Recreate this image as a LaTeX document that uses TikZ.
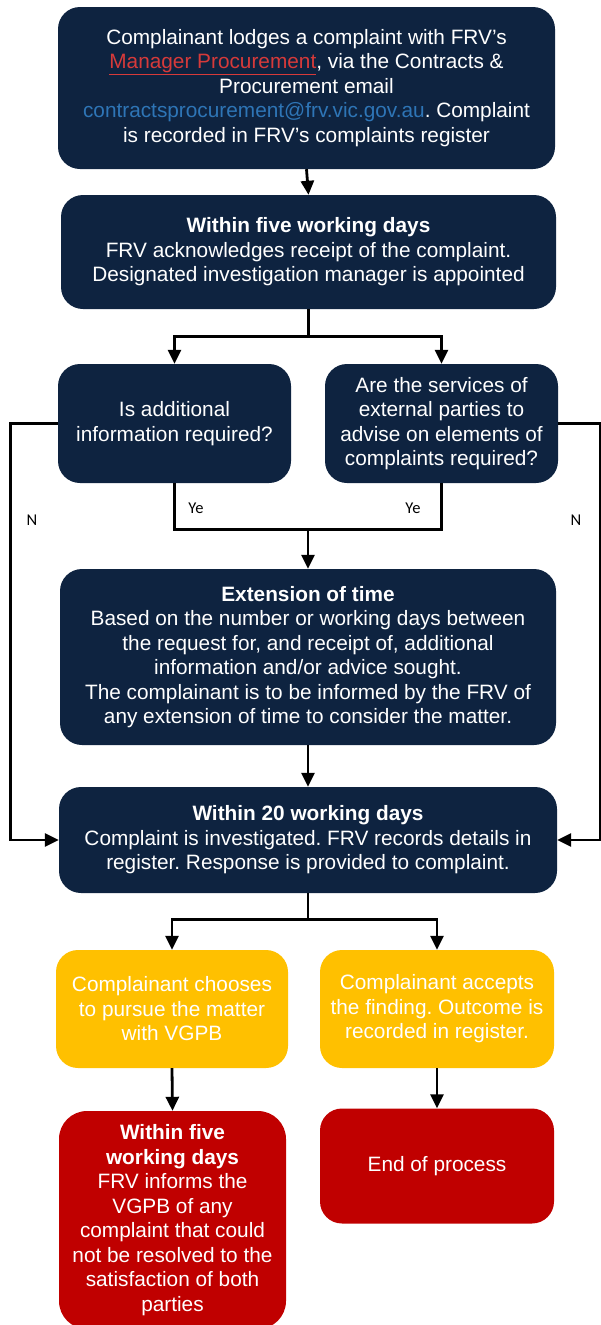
\documentclass[tikz,border=0pt]{standalone}
\usepackage{fontspec}
\setmainfont{Liberation Sans}
\newfontfamily\labelfont{Carlito}
\usetikzlibrary{arrows.meta}
\definecolor{frvnavy}{RGB}{14,35,64}
\definecolor{frvyellow}{RGB}{255,192,0}
\definecolor{frvred}{RGB}{192,0,0}
\definecolor{linkred}{RGB}{214,58,58}
\definecolor{mailblue}{RGB}{46,117,182}
\frenchspacing
\begin{document}
\begin{tikzpicture}[x=1pt,y=-1pt,
    box/.style={rounded corners=22pt, fill=frvnavy, text=white, align=center,
      inner sep=0pt, font={\fontsize{20.8}{24.5}\selectfont}},
    ybox/.style={box, fill=frvyellow},
    rbox/.style={box, fill=frvred},
    line/.style={line width=2.8pt},
    arr/.style={line, -{Triangle[length=14pt,width=13pt]}},
    tag/.style={font={\labelfont\fontsize{16.5}{18}\selectfont}}]
  \useasboundingbox (0,0) rectangle (601,1325);
  % Lodging
  \node[box, minimum width=497pt, minimum height=162pt] (lodge) at (306.5,88)
    {Complainant lodges a complaint with FRV’s\\
     \textcolor{linkred}{\underline{Manager Procurement}}, via the Contracts \&\\
     Procurement email\\
     \textcolor{mailblue}{contractsprocurement@frv.vic.gov.au}. Complaint\\
     is recorded in FRV’s complaints register};
  \node[box, minimum width=495pt, minimum height=114pt] (ack) at (308.5,252)
    {\textbf{Within five working days}\\
     FRV acknowledges receipt of the complaint.\\
     Designated investigation manager is appointed};
  % Questions
  \node[box, minimum width=233pt, minimum height=119pt] (info) at (174.5,423.5)
    {Is additional\\information required?};
  \node[box, minimum width=233pt, minimum height=119pt] (extern) at (441.5,423.5)
    {Are the services of\\external parties to\\advise on elements of\\complaints required?};
  \node[box, minimum width=496pt, minimum height=176pt] (ext) at (308,657)
    {\textbf{Extension of time}\\
     Based on the number or working days between\\
     the request for, and receipt of, additional\\
     information and/or advice sought.\\
     The complainant is to be informed by the FRV of\\
     any extension of time to consider the matter.};
  \node[box, minimum width=498pt, minimum height=106pt] (inv) at (308,840)
    {\textbf{Within 20 working days}\\
     Complaint is investigated. FRV records details in\\
     register. Response is provided to complaint.};
  % Outcomes
  \node[ybox, minimum width=232pt, minimum height=118pt] (pursue) at (172,1009)
    {Complainant chooses\\to pursue the matter\\with VGPB};
  \node[ybox, minimum width=234pt, minimum height=118pt] (accept) at (437,1009)
    {Complainant accepts\\the finding. Outcome is\\recorded in register.};
  \node[rbox, rounded corners=28pt, minimum width=227pt, minimum height=218pt] (inform) at (172.5,1220)
    {\textbf{Within five}\\\textbf{working days}\\FRV informs the\\VGPB of any\\complaint that could\\
     not be resolved to the\\satisfaction of both\\parties};
  \node[rbox, minimum width=234pt, minimum height=115pt] (end) at (437,1166)
    {End of process};
  % Connectors
  \draw[arr] (lodge.south) -- (ack.north);
  \draw[line] (ack.south) -- ++(0,27) coordinate (split);
  \draw[arr] (split) -| (info.north);
  \draw[arr] (split) -| (extern.north);
  \draw[line] (info.south) -- ++(0,46) coordinate (join) -| (extern.south);
  \draw[arr] (ext.north |- join) -- (ext.north);
  \draw[arr] (info.west) -- ++(-47,0) |- (inv.west);
  \draw[arr] (extern.east) -- ++(42,0) |- (inv.east);
  \draw[arr] (ext.south) -- (inv.north);
  \draw[line] (inv.south) -- ++(0,26) coordinate (fork);
  \draw[arr] (fork) -| (pursue.north);
  \draw[arr] (fork) -| (accept.north);
  \draw[arr] (pursue.south) -- (inform.north);
  \draw[arr] (accept.south) -- (end.north);
  % Labels
  \node[tag] (yes1) at (196,508) {Ye};
  \node[tag] (yes2) at (413,508) {Ye};
  \node[tag] (no1) at (32,520) {N};
  \node[tag] (no2) at (576,520) {N};
\end{tikzpicture}
\end{document}
